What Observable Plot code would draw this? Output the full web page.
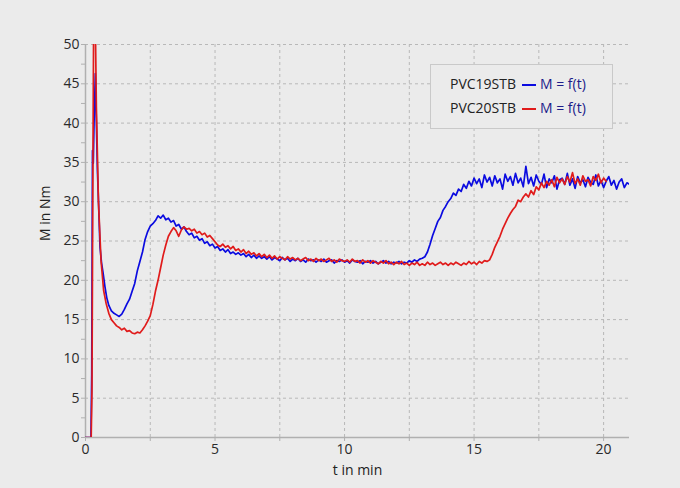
<!DOCTYPE html>
<html>
<head>
<meta charset="utf-8">
<script src="https://cdn.jsdelivr.net/npm/d3@7"></script>
<script src="https://cdn.jsdelivr.net/npm/@observablehq/plot@0.6"></script>
<style>
  html, body { margin: 0; padding: 0; background: #ebebeb; }
  #wrap { position: relative; width: 680px; height: 488px; font-family: "Open Sans", "Noto Sans", sans-serif; }
  #legend { position: absolute; left: 430px; top: 64px; width: 183px; height: 65px; border: 1.5px solid #c9c9c9; box-sizing: border-box; background: #ebebeb; font-size: 14px; }
  .row { position: absolute; left: 0; width: 100%; height: 20px; }
  .name { position: absolute; right: 96px; color: #222; }
  .sw { position: absolute; left: 91px; top: 10px; width: 14px; height: 2px; }
  .fn { position: absolute; left: 109px; color: #1c1c8a; }
</style>
</head>
<body>
<div id="wrap">
  <div id="chart"></div>
  <div id="legend">
    <div class="row" style="top:9px"><span class="name">PVC19STB</span><span class="sw" style="background:#0b0be0"></span><span class="fn">M = f(t)</span></div>
    <div class="row" style="top:33px"><span class="name">PVC20STB</span><span class="sw" style="background:#e01b1b"></span><span class="fn">M = f(t)</span></div>
  </div>
</div>
<script>
// Start-up spike, read as explicit (t, M) pairs
const blueEarlyT = [0, 0.21, 0.24, 0.27, 0.30, 0.33, 0.38, 0.42, 0.46, 0.50, 0.56, 0.62, 0.68, 0.75, 0.82, 0.90];
const blueEarlyM = [0, 0, 8, 36.5, 34.9, 40, 46.3, 40, 34, 30.2, 24.2, 22.2, 20.9, 19.2, 17.8, 16.8];
const redEarlyT = [0, 0.22, 0.25, 0.28, 0.31, 0.35, 0.39, 0.42, 0.50, 0.60, 0.70, 0.80, 0.90];
const redEarlyM = [0, 0, 6, 30, 50, 56, 50, 42, 30, 22.5, 18.7, 17.0, 15.8];

// Regularly sampled part: one reading every 0.1 min starting at t = 1.0
const sampleStart = 1.0;
const sampleStep = 0.1;
const blueM = [
  16.1, 15.8, 15.6, 15.4, 15.7, 16.3, 17.0, 17.6, 18.6, 19.6,
  21.2, 22.4, 23.6, 25.2, 26.2, 26.9, 27.2, 27.6, 28.2, 27.9,
  28.3, 27.7, 27.9, 27.4, 27.6, 26.9, 27.1, 26.5, 26.8, 26.2,
  25.8, 26.0, 25.4, 25.6, 25.1, 25.3, 24.7, 24.9, 24.4, 24.6,
  24.1, 24.3, 23.8, 24.0, 23.6, 23.9, 23.4, 23.6, 23.3, 23.5,
  23.2, 23.4, 23.0, 23.3, 22.9, 23.2, 22.8, 23.1, 22.8, 23.0,
  22.7, 23.0, 22.6, 22.9, 22.7, 22.5, 22.9, 22.6, 22.8, 22.4,
  22.7, 22.5, 22.8, 22.4, 22.6, 22.3, 22.7, 22.5, 22.6, 22.3,
  22.6, 22.4, 22.7, 22.3, 22.5, 22.6, 22.2, 22.5, 22.4, 22.6,
  22.3, 22.5, 22.2, 22.6, 22.4, 22.3, 22.5, 22.1, 22.4, 22.3,
  22.5, 22.2, 22.4, 22.1, 22.3, 22.5, 22.2, 22.4, 22.1, 22.3,
  22.2, 22.4, 22.1, 22.3, 22.2, 22.5, 22.3, 22.6, 22.4, 22.7,
  22.8, 23.0, 23.6, 24.6, 25.7, 26.6, 27.5, 28.0, 28.9, 29.4,
  30.0, 30.4, 31.1, 30.8, 31.6, 31.3, 32.2, 31.7, 32.6, 32.0,
  33.0, 32.3, 32.9, 31.8, 33.4, 32.5, 33.1, 32.0, 33.3, 32.4,
  32.9, 31.6, 33.5, 32.6, 33.2, 32.1, 33.6, 32.4, 33.0, 31.9,
  34.5, 32.3, 33.1, 32.0, 33.4, 32.6, 32.2, 33.5, 31.8, 32.9,
  32.4, 33.3, 31.6, 32.8, 33.0, 32.2, 33.6, 32.1, 32.9, 31.7,
  33.2, 32.4, 32.8, 31.9, 33.1, 32.5, 32.2, 33.4, 32.0, 32.7,
  31.8, 32.6, 33.2, 32.1, 32.7, 31.6, 32.5, 32.9, 31.8, 32.4,
  32.2
];
const redM = [
  15.0, 14.6, 14.2, 14.0, 13.7, 13.9, 13.5, 13.6, 13.3, 13.2,
  13.4, 13.3, 13.7, 14.2, 14.8, 15.5, 16.9, 18.6, 20.0, 21.6,
  23.2, 24.5, 25.6, 26.2, 26.7, 26.3, 25.6, 26.4, 26.8, 26.5,
  26.6, 26.3, 26.5, 26.0, 26.2, 25.8, 26.0, 25.5, 25.7, 25.3,
  24.9, 24.5, 24.3, 24.6, 24.2, 24.4, 24.0, 24.3, 23.8, 24.0,
  23.6, 23.9, 23.4, 23.7, 23.3, 23.5, 23.1, 23.4, 23.0, 23.3,
  22.9, 23.2, 22.8, 23.1, 22.7, 23.0, 22.8, 22.6, 23.0, 22.7,
  22.9, 22.6, 22.8, 22.5, 22.7, 22.9, 22.5, 22.7, 22.4, 22.8,
  22.5, 22.7, 22.4, 22.6, 22.8, 22.4, 22.6, 22.3, 22.7, 22.5,
  22.4, 22.6, 22.3, 22.7, 22.4, 22.5, 22.2, 22.6, 22.3, 22.5,
  22.2, 22.5, 22.3, 22.1, 22.4, 22.2, 22.5, 22.1, 22.3, 22.0,
  22.3, 22.1, 22.4, 22.0, 22.2, 21.9, 22.2, 22.0, 22.3, 21.9,
  22.1, 21.9, 22.3, 22.0, 22.2, 21.9, 22.1, 22.3, 22.0, 22.2,
  21.9, 22.2, 22.0, 22.3, 22.1, 21.9, 22.2, 22.0, 22.4, 22.1,
  22.3, 22.0, 22.4, 22.2, 22.5, 22.4, 22.6, 23.3, 24.2, 24.9,
  25.6, 26.5, 27.2, 27.9, 28.5, 29.0, 29.4, 30.2, 30.0, 30.6,
  31.0, 30.6, 31.4, 30.9, 31.9, 31.5, 32.4, 31.8, 32.6, 32.1,
  32.8, 31.9, 33.1, 32.4, 32.9, 32.2, 33.2, 32.5, 33.7, 32.3,
  32.9, 32.1, 33.3, 32.6, 32.8, 32.0, 33.2, 32.7, 33.5, 32.4,
  33.0, 32.6
];

const xTicks = [0, 2.5, 5, 7.5, 10, 12.5, 15, 17.5, 20];
const xLabels = [0, 5, 10, 15, 20];
const yTicks = [0, 2.5, 5, 7.5, 10, 12.5, 15, 17.5, 20, 22.5, 25, 27.5, 30, 32.5, 35, 37.5, 40, 42.5, 45, 47.5, 50];
const yLabels = [0, 5, 10, 15, 20, 25, 30, 35, 40, 45, 50];

function build(name, earlyT, earlyM, vals) {
  const rows = earlyT.map((t, i) => ({series: name, t, m: earlyM[i]}));
  vals.forEach((m, i) => rows.push({series: name, t: +(sampleStart + i * sampleStep).toFixed(2), m}));
  return rows;
}
const blue = build("PVC19STB", blueEarlyT, blueEarlyM, blueM);
const red = build("PVC20STB", redEarlyT, redEarlyM, redM);

const chart = Plot.plot({
  width: 680,
  height: 488,
  marginLeft: 85,
  marginRight: 51,
  marginTop: 44,
  marginBottom: 51,
  style: {background: "#ebebeb", fontFamily: "'Open Sans', 'Noto Sans', sans-serif", fontSize: "14px", color: "#2a2a2a"},
  x: {domain: [0, 21]},
  y: {domain: [0, 50]},
  marks: [
    Plot.gridX(xTicks, {stroke: "#b8b8b8", strokeOpacity: 1, strokeDasharray: "3,3"}),
    Plot.gridY(yLabels, {stroke: "#b8b8b8", strokeOpacity: 1, strokeDasharray: "3,3"}),
    Plot.ruleX([0], {stroke: "#b0b0b0", strokeWidth: 1.5}),
    Plot.ruleY([0], {stroke: "#b0b0b0", strokeWidth: 1.5}),
    Plot.axisX(xTicks, {tickSize: 4, stroke: "#b0b0b0", tickFormat: d => xLabels.includes(d) ? d : "", tickPadding: 3, label: null}),
    Plot.axisY(yTicks, {tickSize: 4, stroke: "#b0b0b0", tickFormat: d => yLabels.includes(d) ? d : "", tickPadding: 2, label: null}),
    Plot.text(["t in min"], {frameAnchor: "bottom", dy: 37, fontSize: 14, fill: "#222"}),
    Plot.text(["M in Nm"], {frameAnchor: "left", dx: -40, rotate: -90, fontSize: 14, fill: "#222"}),
    Plot.line(blue, {x: "t", y: "m", stroke: "#0b0be0", strokeWidth: 1.7, clip: true}),
    Plot.line(red, {x: "t", y: "m", stroke: "#e01b1b", strokeWidth: 1.7, clip: true})
  ]
});
document.getElementById("chart").appendChild(chart);
</script>
</body>
</html>
